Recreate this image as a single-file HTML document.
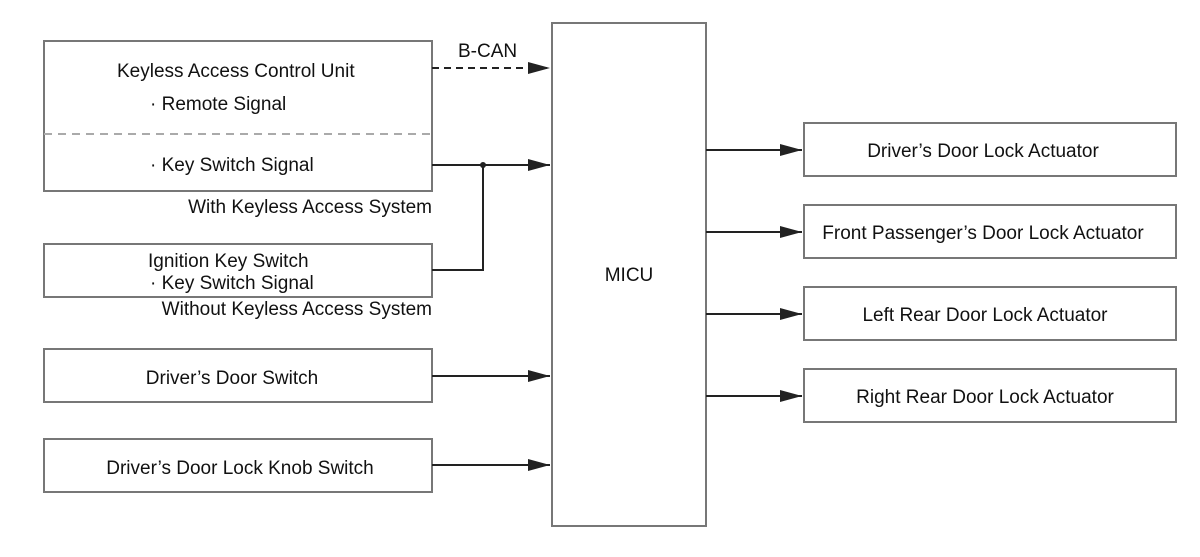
<!DOCTYPE html>
<html><head><style>
body{margin:0;background:#fff}
svg text{font-family:"Liberation Sans",sans-serif;font-size:19px;fill:#111}
</style></head><body>
<svg width="1200" height="552" viewBox="0 0 1200 552">
<defs><marker id="a" markerWidth="22" markerHeight="12" refX="22" refY="6" orient="auto" markerUnits="userSpaceOnUse"><path d="M0,0 L22,6 L0,12 z" fill="#222"/></marker></defs>
<g fill="#fff" stroke="#777" stroke-width="2">
<rect x="44" y="41" width="388" height="150"/>
<rect x="44" y="244" width="388" height="53"/>
<rect x="44" y="349" width="388" height="53"/>
<rect x="44" y="439" width="388" height="53"/>
<rect x="552" y="23" width="154" height="503"/>
<rect x="804" y="123" width="372" height="53"/>
<rect x="804" y="205" width="372" height="53"/>
<rect x="804" y="287" width="372" height="53"/>
<rect x="804" y="369" width="372" height="53"/>
</g>
<line x1="44" y1="134" x2="432" y2="134" stroke="#aaa" stroke-width="2" stroke-dasharray="8,6"/>
<g stroke="#222" stroke-width="2" fill="none">
<line x1="432" y1="68" x2="550" y2="68" stroke-dasharray="7,5" marker-end="url(#a)"/>
<line x1="432" y1="165" x2="550" y2="165" marker-end="url(#a)"/>
<polyline points="432,270 483,270 483,165"/>
<line x1="432" y1="376" x2="550" y2="376" marker-end="url(#a)"/>
<line x1="432" y1="465" x2="550" y2="465" marker-end="url(#a)"/>
<line x1="706" y1="150" x2="802" y2="150" marker-end="url(#a)"/>
<line x1="706" y1="232" x2="802" y2="232" marker-end="url(#a)"/>
<line x1="706" y1="314" x2="802" y2="314" marker-end="url(#a)"/>
<line x1="706" y1="396" x2="802" y2="396" marker-end="url(#a)"/>
</g>
<circle cx="483" cy="165" r="3" fill="#222"/>
<text x="458" y="57">B-CAN</text>
<text x="117" y="77">Keyless Access Control Unit</text>
<text x="150" y="110">· Remote Signal</text>
<text x="150" y="171">· Key Switch Signal</text>
<text x="432" y="213" text-anchor="end">With Keyless Access System</text>
<text x="148" y="267">Ignition Key Switch</text>
<text x="150" y="289">· Key Switch Signal</text>
<text x="432" y="315" text-anchor="end">Without Keyless Access System</text>
<text x="232" y="384" text-anchor="middle">Driver’s Door Switch</text>
<text x="240" y="474" text-anchor="middle">Driver’s Door Lock Knob Switch</text>
<text x="629" y="281" text-anchor="middle">MICU</text>
<text x="983" y="157" text-anchor="middle">Driver’s Door Lock Actuator</text>
<text x="983" y="239" text-anchor="middle">Front Passenger’s Door Lock Actuator</text>
<text x="985" y="321" text-anchor="middle">Left Rear Door Lock Actuator</text>
<text x="985" y="403" text-anchor="middle">Right Rear Door Lock Actuator</text>
</svg>
</body></html>
